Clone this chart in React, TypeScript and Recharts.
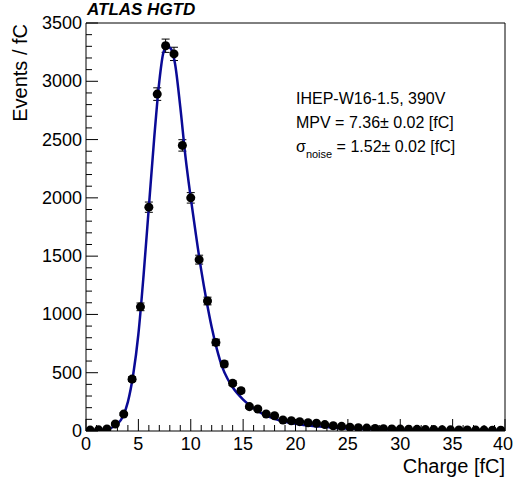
import { ComposedChart, Line, Scatter, ErrorBar, XAxis, YAxis, ReferenceLine } from "recharts";

// bin centres (0.8 fC bins) and contents
const charge = [
  0.4, 1.2, 2.0, 2.8, 3.6, 4.4, 5.2, 6.0, 6.8, 7.6,
  8.4, 9.2, 10.0, 10.8, 11.6, 12.4, 13.2, 14.0, 14.8, 15.6,
  16.4, 17.2, 18.0, 18.8, 19.6, 20.4, 21.2, 22.0, 22.8, 23.6,
  24.4, 25.2, 26.0, 26.8, 27.6, 28.4, 29.2, 30.0, 30.8, 31.6,
  32.4, 33.2, 34.0, 34.8, 35.6, 36.4, 37.2, 38.0, 38.8, 39.6,
];
const counts = [
  8, 10, 17, 60, 145, 445, 1065, 1920, 2890, 3305,
  3235, 2450, 2000, 1470, 1115, 760, 575, 410, 346, 209,
  189, 146, 131, 94, 88, 80, 71, 66, 55, 45,
  40, 32, 28, 25, 21, 19, 18, 16, 14, 14,
  12, 12, 10, 10, 9, 9, 8, 8, 7, 7,
];
const errors = [
  3, 3, 4, 8, 12, 21, 33, 44, 54, 57,
  57, 49, 45, 38, 33, 28, 24, 20, 19, 14,
  14, 12, 11, 10, 9, 9, 8, 8, 7, 7,
  6, 6, 5, 5, 5, 4, 4, 4, 4, 4,
  3, 3, 3, 3, 3, 3, 3, 3, 3, 3,
];

// fitted Landau (x) Gauss curve
const fitCharge = [0, 1, 2, 2.5, 3, 3.5, 4, 4.5, 5, 5.5, 6, 6.5, 7, 7.4, 7.75, 8.1, 8.5, 9, 9.5, 10, 10.5, 11, 11.5, 12, 12.5, 13, 13.5, 14, 15, 16, 17, 18, 19, 20, 22, 24, 26, 28, 30, 33, 36, 40];
const fitValue = [2, 5, 15, 30, 60, 120, 250, 480, 830, 1340, 1920, 2500, 3000, 3250, 3300, 3280, 3150, 2780, 2350, 2000, 1680, 1380, 1120, 890, 700, 550, 450, 375, 270, 195, 140, 105, 80, 62, 40, 26, 18, 13, 10, 7, 5, 3];

const xMajor = [0, 5, 10, 15, 20, 25, 30, 35, 40];
const yMajor = [0, 500, 1000, 1500, 2000, 2500, 3000, 3500];

const xTicks = Array.from({ length: 41 }, (_, i) => i);
const yTicks = Array.from({ length: 36 }, (_, i) => i * 100);

const points = charge.map((x, i) => ({ x, y: counts[i], err: errors[i] }));
const fit = fitCharge.map((x, i) => ({ x, y: fitValue[i] }));

const FONT = "'Liberation Sans', Arial, sans-serif";

function YTick(props: any) {
  const { x, y, payload } = props;
  const major = yMajor.includes(payload.value);
  return (
    <g>
      <line x1={x} x2={x + (major ? 12 : 6)} y1={y} y2={y} stroke="#000" strokeWidth={1} />
      {major && (
        <text x={x - 4} y={y} dy={6} textAnchor="end" fontSize={18} fontFamily={FONT} fill="#000">
          {payload.value}
        </text>
      )}
    </g>
  );
}

function XTick(props: any) {
  const { x, y, payload } = props;
  const major = xMajor.includes(payload.value);
  const last = payload.value === 40;
  return (
    <g>
      <line x1={x} x2={x} y1={y} y2={y - (major ? 12 : 6)} stroke="#000" strokeWidth={1} />
      {major && (
        <text x={last ? x - 2 : x} y={y + 19} textAnchor="middle" fontSize={18} fontFamily={FONT} fill="#000">
          {payload.value}
        </text>
      )}
    </g>
  );
}

export default function App() {
  return (
    <div style={{ position: "absolute", left: 0, top: 0, background: "#fff" }}>
      <ComposedChart
        width={513}
        height={481}
        margin={{ top: 23, right: 8, bottom: 0, left: 26 }}
      >
        <XAxis
          type="number"
          dataKey="x"
          domain={[0, 40]}
          ticks={xTicks}
          interval={0}
          tickSize={0}
          tickMargin={0}
          tickLine={false}
          tick={<XTick />}
          axisLine={{ stroke: "#000" }}
          height={50}
          allowDataOverflow
        />
        <YAxis
          type="number"
          domain={[0, 3500]}
          ticks={yTicks}
          interval={0}
          tickSize={0}
          tickMargin={0}
          tickLine={false}
          tick={<YTick />}
          axisLine={{ stroke: "#000" }}
          width={60}
          allowDataOverflow
        />
        <ReferenceLine x={40} stroke="#000" strokeWidth={1} />
        <ReferenceLine y={3500} stroke="#000" strokeWidth={1} />
        <Scatter data={points} dataKey="y" fill="#000" isAnimationActive={false}>
          <ErrorBar dataKey="err" direction="y" width={4} stroke="#000" strokeWidth={1} />
        </Scatter>
        <Line
          data={fit}
          dataKey="y"
          type="monotone"
          stroke="#0a0a96"
          strokeWidth={2.5}
          dot={false}
          isAnimationActive={false}
        />
        <text x={87} y={15} fontSize={17} fontWeight="bold" fontStyle="italic" fontFamily={FONT} fill="#000">
          ATLAS HGTD
        </text>
        <text x={27} y={24} transform="rotate(-90 27 24)" textAnchor="end" fontSize={20} fontFamily={FONT} fill="#000">
          Events / fC
        </text>
        <text x={505} y={473} textAnchor="end" fontSize={20} fontFamily={FONT} fill="#000">
          Charge [fC]
        </text>
        <text x={296} y={104} fontSize={16} fontFamily={FONT} fill="#000">
          IHEP-W16-1.5, 390V
        </text>
        <text x={296} y={128} fontSize={16} fontFamily={FONT} fill="#000">
          MPV = 7.36± 0.02 [fC]
        </text>
        <text x={296} y={152} fontSize={16} fontFamily={FONT} fill="#000">
          σ
          <tspan fontSize={11} dy={6}>noise</tspan>
          <tspan dy={-6}> = 1.52± 0.02 [fC]</tspan>
        </text>
      </ComposedChart>
    </div>
  );
}
